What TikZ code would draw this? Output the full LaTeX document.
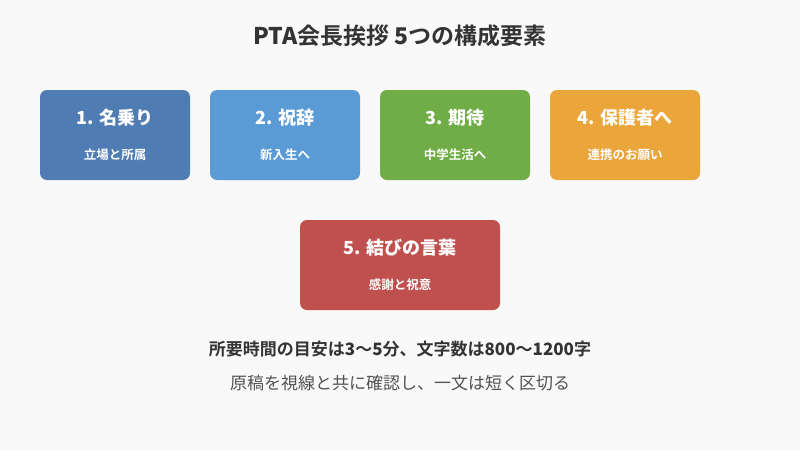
\documentclass[tikz,border=0pt]{standalone}
\usepackage{fontspec}
\setmainfont{Liberation Serif}
\newfontfamily\jp{Noto Sans CJK JP}
\newfontfamily\jpb{Noto Sans CJK JP Bold}
\definecolor{bg}{HTML}{F9F9F9}
\definecolor{c1}{HTML}{4F7DB3}
\definecolor{c2}{HTML}{5B9BD5}
\definecolor{c3}{HTML}{70AD47}
\definecolor{c4}{HTML}{EBA63B}
\definecolor{c5}{HTML}{C0504D}
\definecolor{tx}{HTML}{333333}
\tikzset{card/.style={fill=#1,rounded corners=7pt,minimum width=150pt,minimum height=90pt,draw=none},
 ttl/.style={text=white,font=\fontsize{18}{20}\selectfont\bfseries\jpb},
 sub/.style={text=white,font=\fontsize{12.5}{14}\selectfont\jpb}}
\begin{document}
\begin{tikzpicture}[x=1pt,y=-1pt]
\fill[bg] (0,0) rectangle (800,450);
\useasboundingbox (0,0) rectangle (800,450);
\node[text=tx,font=\fontsize{23}{26}\selectfont\jpb] (t) at (400,36) {\textbf{PTA}会長挨拶 \textbf{5}つの構成要素};
\node[card=c1] (b1) at (115,135) {};
\node[card=c2] (b2) at (285,135) {};
\node[card=c3] (b3) at (455,135) {};
\node[card=c4] (b4) at (625,135) {};
\node[card=c5,minimum width=200pt] (b5) at (400,265) {};
\node[ttl] (t1) at (115,118) {\textbf{1.} 名乗り};
\node[sub] (s1) at (115,155) {立場と所属};
\node[ttl] (t2) at (285,118) {\textbf{2.} 祝辞};
\node[sub] (s2) at (285,155) {新入生へ};
\node[ttl] (t3) at (455,118) {\textbf{3.} 期待};
\node[sub] (s3) at (455,155) {中学生活へ};
\node[ttl] (t4) at (625,118) {\textbf{4.} 保護者へ};
\node[sub] (s4) at (625,155) {連携のお願い};
\node[ttl] (t5) at (400,248) {\textbf{5.} 結びの言葉};
\node[sub] (s5) at (400,285) {感謝と祝意};
\node[text=tx,font=\fontsize{17}{20}\selectfont\jpb] (l1) at (400,349) {所要時間の目安は\textbf{3}〜\textbf{5}分、文字数は\textbf{800}〜\textbf{1200}字};
\node[text=tx!85,font=\fontsize{17}{20}\selectfont\jp] (l2) at (400,383) {原稿を視線と共に確認し、一文は短く区切る};
\end{tikzpicture}
\end{document}
